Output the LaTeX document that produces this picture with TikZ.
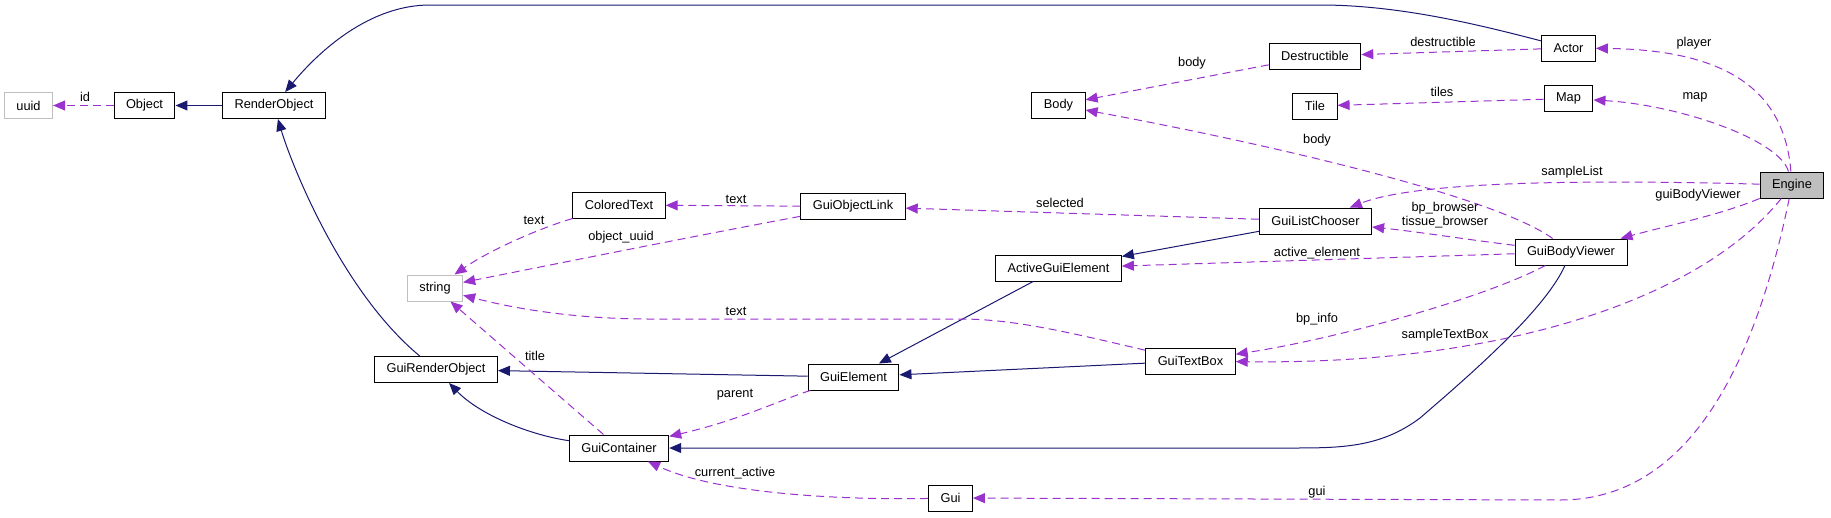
\documentclass[tikz,border=0pt]{standalone}
\usepackage{fontspec}
\setmainfont{Liberation Sans}
\usetikzlibrary{arrows.meta}
\definecolor{herda}{HTML}{191970}
\definecolor{usa}{HTML}{9A32CD}

\begin{document}
\begin{tikzpicture}[x=1pt,y=-1pt,
  every node/.style={font=\fontsize{12.8}{14}\selectfont},
  cls/.style={draw=black,line width=1pt,inner xsep=12pt,inner ysep=0pt,minimum height=26pt},
  ext/.style={cls,draw=gray!50},
  inh/.style={draw=herda,line width=1pt,-{Triangle[length=12pt,width=10pt]}},
  uso/.style={draw=usa,line width=1pt,dash pattern=on 8pt off 5pt,-{Triangle[length=12pt,width=10pt]}},
  lbl/.style={inner sep=1pt}]
\useasboundingbox (0,0) rectangle (1831,517);
% classes
\node[ext] (uuid) at (28.5,105.5) {uuid};
\node[cls] (Object) at (144.5,105.5) {Object};
\node[cls] (RenderObject) at (274,105.5) {RenderObject};
\node[ext] (string) at (435,288) {string};
\node[cls] (GuiRenderObject) at (436,369.5) {GuiRenderObject};
\node[cls] (ColoredText) at (619,205) {ColoredText};
\node[cls] (GuiContainer) at (619,448) {GuiContainer};
\node[cls] (GuiObjectLink) at (853,206.5) {GuiObjectLink};
\node[cls] (GuiElement) at (853.5,377) {GuiElement};
\node[cls] (Gui) at (950.5,498) {Gui};
\node[cls] (Body) at (1058.5,105) {Body};
\node[cls] (ActiveGuiElement) at (1058.5,268) {ActiveGuiElement};
\node[cls] (GuiTextBox) at (1190.5,361) {GuiTextBox};
\node[cls] (Destructible) at (1315,56) {Destructible};
\node[cls] (Tile) at (1315,106) {Tile};
\node[cls] (GuiListChooser) at (1315.5,221) {GuiListChooser};
\node[cls] (Actor) at (1568.5,48) {Actor};
\node[cls] (Map) at (1568.5,98.5) {Map};
\node[cls] (GuiBodyViewer) at (1571,252) {GuiBodyViewer};
\node[cls,fill=gray!50] (Engine) at (1792,185) {Engine};
% herança
\draw[inh] (RenderObject) -- (Object);
\draw[inh] (Actor) .. controls (1480,25) and (1400,5) .. (1320,5) -- (430,5)
  .. controls (370,5) and (320,50) .. (RenderObject);
\draw[inh] (GuiRenderObject) .. controls (340,290) and (290,160) .. (RenderObject);
\draw[inh] (GuiContainer) .. controls (530,435) and (480,415) .. (GuiRenderObject);
\draw[inh] (GuiElement) -- (GuiRenderObject);
\draw[inh] (GuiTextBox) -- (GuiElement);
\draw[inh] (ActiveGuiElement) -- (GuiElement);
\draw[inh] (GuiListChooser) -- (ActiveGuiElement);
\draw[inh] (GuiBodyViewer) .. controls (1545,310) and (1470,375) .. (1420,418)
  .. controls (1380,448) and (1340,448) .. (1290,448) -- (GuiContainer);
% membros
\draw[uso] (Object) -- (uuid);
\draw[uso] (ColoredText) .. controls (540,228) and (490,250) .. (string);
\draw[uso] (GuiObjectLink) -- (ColoredText);
\draw[uso] (GuiObjectLink) .. controls (700,235) and (550,265) .. (string);
\draw[uso] (GuiTextBox) .. controls (1060,330) and (1010,319) .. (960,319) -- (650,319)
  .. controls (580,319) and (520,310) .. (string);
\draw[uso] (GuiContainer) -- (string);
\draw[uso] (GuiElement) .. controls (780,400) and (740,420) .. (GuiContainer);
\draw[uso] (Gui) .. controls (850,500) and (720,495) .. (GuiContainer);
\draw[uso] (Engine) .. controls (1760,340) and (1700,500) .. (1560,500) -- (Gui);
\draw[uso] (Engine) .. controls (1785,100) and (1740,50) .. (Actor);
\draw[uso] (Engine) .. controls (1780,140) and (1680,105) .. (Map);
\draw[uso] (Actor) -- (Destructible);
\draw[uso] (Destructible) -- (Body);
\draw[uso] (Map) -- (Tile);
\draw[uso] (GuiBodyViewer) .. controls (1500,200) and (1300,150) .. (Body);
\draw[uso] (Engine) .. controls (1600,180) and (1420,180) .. (GuiListChooser);
\draw[uso] (GuiBodyViewer) .. controls (1470,240) and (1420,232) .. (GuiListChooser);
\draw[uso] (GuiBodyViewer) -- (ActiveGuiElement);
\draw[uso] (GuiBodyViewer) .. controls (1480,300) and (1330,340) .. (GuiTextBox);
\draw[uso] (Engine) .. controls (1700,300) and (1500,365) .. (GuiTextBox);
\draw[uso] (Engine) .. controls (1720,215) and (1670,225) .. (GuiBodyViewer);
\draw[uso] (GuiListChooser) -- (GuiObjectLink);
% rótulos
\node[lbl] (l-id) at (85,97) {id};
\node[lbl] (l-text1) at (534,220) {text};
\node[lbl] (l-text2) at (736,199) {text};
\node[lbl] (l-uuid) at (621,237) {object\_uuid};
\node[lbl] (l-text3) at (736,311) {text};
\node[lbl] (l-title) at (535,356) {title};
\node[lbl] (l-parent) at (735,395) {parent};
\node[lbl] (l-active) at (735,473) {current\_active};
\node[lbl] (l-gui) at (1317,492) {gui};
\node[lbl] (l-player) at (1694,43) {player};
\node[lbl] (l-map) at (1695,97) {map};
\node[lbl] (l-destr) at (1443,42) {destructible};
\node[lbl] (l-body1) at (1192,63) {body};
\node[lbl] (l-tiles) at (1442,92) {tiles};
\node[lbl] (l-body2) at (1317,140) {body};
\node[lbl] (l-list) at (1572,172) {sampleList};
\node[lbl,align=center] (l-browser) at (1445,215.5) {bp\_browser\\tissue\_browser};
\node[lbl] (l-elem) at (1317,253) {active\_element};
\node[lbl] (l-info) at (1317,319) {bp\_info};
\node[lbl] (l-textbox) at (1445,335) {sampleTextBox};
\node[lbl] (l-viewer) at (1698,195) {guiBodyViewer};
\node[lbl] (l-sel) at (1060,203) {selected};
\end{tikzpicture}
\end{document}
